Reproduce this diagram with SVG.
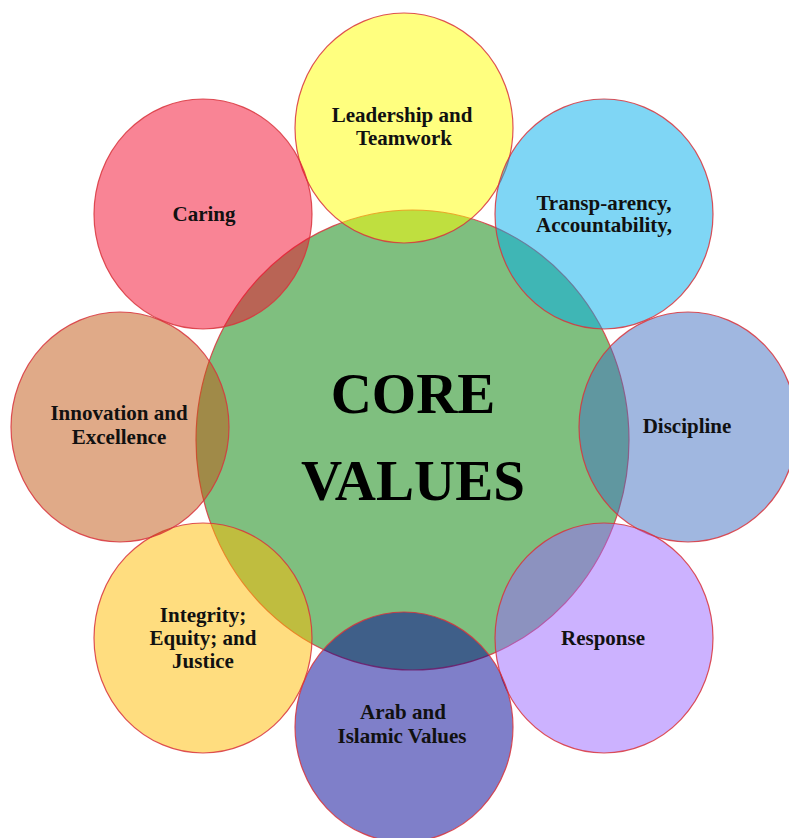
<svg xmlns="http://www.w3.org/2000/svg" width="789" height="838" viewBox="0 0 789 838">
<style>
.c{stroke:#D8343C;stroke-width:1.2;fill-opacity:0.5;stroke-opacity:0.85}
.t{font-family:"Liberation Serif","Times New Roman",serif;font-weight:bold;font-size:21px;fill:#111;text-anchor:middle}
.big{font-family:"Liberation Serif","Times New Roman",serif;font-weight:bold;font-size:57px;fill:#000;text-anchor:middle}
</style>
<rect width="789" height="838" fill="#fff"/>
<g id="core">
<ellipse class="c" cx="412.5" cy="440" rx="216.5" ry="230" fill="#008000"/>
<text class="big" x="413" y="413">CORE</text>
<text class="big" x="413" y="500">VALUES</text>
</g>
<g id="leadership">
<ellipse class="c" cx="404" cy="128" rx="109" ry="115" fill="#FFFF00"/>
<text class="t" x="402" y="122">Leadership and</text>
<text class="t" x="404" y="145">Teamwork</text>
</g>
<g id="transparency">
<ellipse class="c" cx="604" cy="214" rx="109" ry="115" fill="#00ADEB"/>
<text class="t" x="604" y="210">Transp-arency,</text>
<text class="t" x="604" y="232">Accountability,</text>
</g>
<g id="discipline">
<ellipse class="c" cx="688" cy="427" rx="109" ry="115" fill="#416FC1"/>
<text class="t" x="687" y="433">Discipline</text>
</g>
<g id="response">
<ellipse class="c" cx="604" cy="638" rx="109" ry="115" fill="#9965FF"/>
<text class="t" x="603" y="645">Response</text>
</g>
<g id="arab">
<ellipse class="c" cx="404" cy="727" rx="109" ry="115" fill="#000093"/>
<text class="t" x="403" y="719">Arab and</text>
<text class="t" x="402" y="743">Islamic Values</text>
</g>
<g id="integrity">
<ellipse class="c" cx="203" cy="638" rx="109" ry="115" fill="#FFBB00"/>
<text class="t" x="203" y="622">Integrity;</text>
<text class="t" x="203" y="645">Equity; and</text>
<text class="t" x="203" y="668">Justice</text>
</g>
<g id="innovation">
<ellipse class="c" cx="120" cy="427" rx="109" ry="115" fill="#C15511"/>
<text class="t" x="119" y="420">Innovation and</text>
<text class="t" x="119" y="444">Excellence</text>
</g>
<g id="caring">
<ellipse class="c" cx="203" cy="214" rx="109" ry="115" fill="#F3092B"/>
<text class="t" x="204" y="221">Caring</text>
</g>
<g id="connectors"/>
</svg>
